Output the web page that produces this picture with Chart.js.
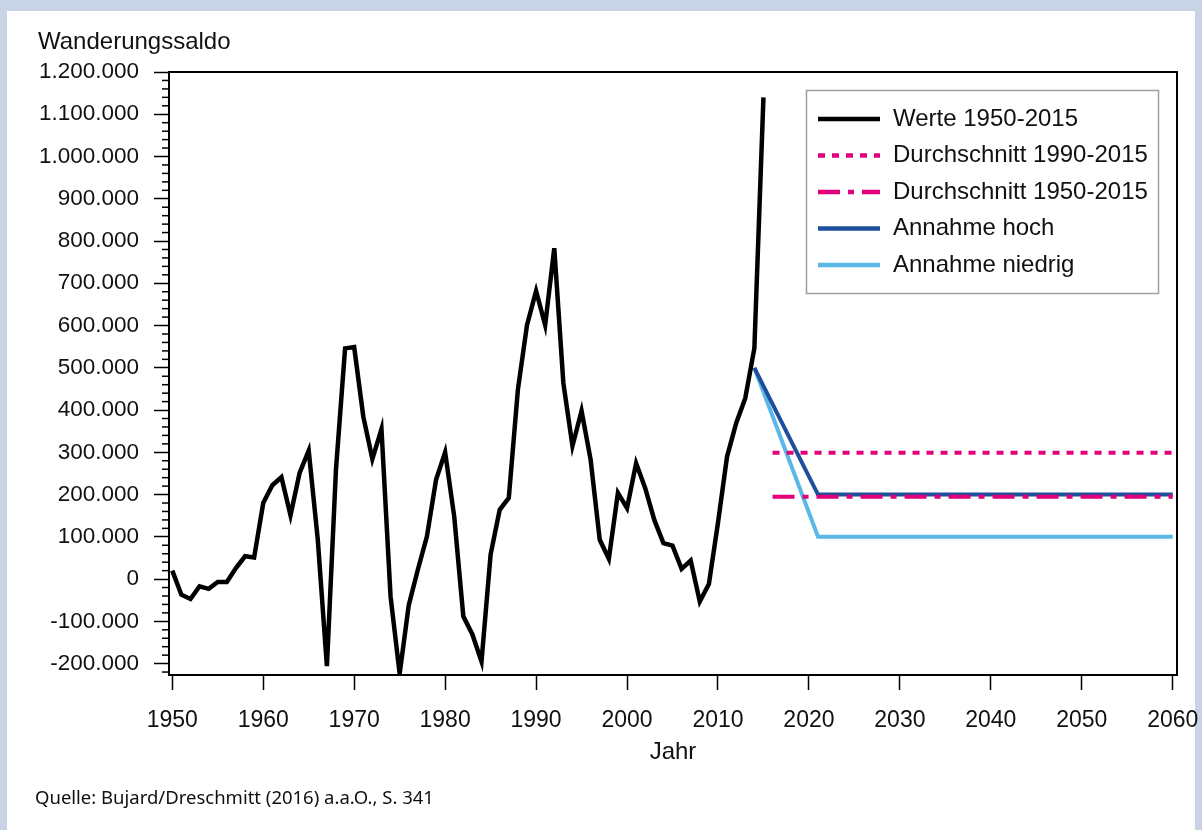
<!DOCTYPE html>
<html>
<head>
<meta charset="utf-8">
<script src="https://cdn.jsdelivr.net/npm/chart.js@4.4.1/dist/chart.umd.min.js"></script>
<style>
  body { margin: 0; background: #c9d3e6; }
  #panel { position: absolute; left: 7px; top: 11px; width: 1188px; height: 819px; background: #fff; }
  #wrap { position: absolute; left: 0; top: 0; width: 1202px; height: 830px; }
  #ytitle { position: absolute; left: 38px; top: 27px; font: 24px "Liberation Sans", Arial, sans-serif; color: #111; }
  #source { position: absolute; left: 35px; top: 784px; font: 18.5px "Noto Sans", sans-serif; color: #111; }
</style>
</head>
<body>
<div id="panel"></div>
<div id="wrap"><canvas id="myChart" width="1202" height="830"></canvas></div>
<div id="ytitle">Wanderungssaldo</div>
<div id="source">Quelle: Bujard/Dreschmitt (2016) a.a.O., S. 341</div>
<script>
// Jahre 1950-2015 und Wanderungssaldo
const years = [];
for (let y = 1950; y <= 2015; y++) years.push(y);
const werte = [
    20000, -37000, -47000, -17000, -23000, -7000, -7000, 26000, 54000, 51000,
    180000, 222000, 241000, 151000, 251000, 304000, 93000, -206000, 260000, 546000,
    549000, 385000, 284000, 355000, -41000, -224000, -62000, 22000, 101000, 235000,
    300000, 148000, -88000, -131000, -195000, 58000, 164000, 192000, 448000, 601000,
    682000, 601000, 783000, 464000, 315000, 398000, 282000, 93000, 48000, 204000,
    168000, 274000, 215000, 140000, 85000, 79000, 24000, 44000, -53000, -12000,
    133000, 290000, 369000, 428000, 546000, 1140000
];

// Durchschnitte und Annahmen
const avgYears = [2016, 2060];
const avg1990 = [299000, 299000];
const avg1950 = [195000, 195000];
const projYears = [2014, 2021, 2060];
const hoch = [500000, 200000, 200000];
const niedrig = [500000, 100000, 100000];

// Achsen
const yMin = -227000, yMax = 1200000;
const yMajor = 100000, yMinor = 20000;
const xMin = 1949.64, xMax = 2060.47, xStep = 10;

const fontFamily = '"Liberation Sans", Arial, sans-serif';
const magenta = '#e2007a';

function pts(xs, ys) {
    return xs.map((x, i) => ({ x: x, y: ys[i] }));
}

function fmt(v) {
    const s = String(Math.abs(v)).replace(/\B(?=(\d{3})+(?!\d))/g, '.');
    return (v < 0 ? '-' : '') + s;
}

function isMajor(v) {
    return Math.round(v) % yMajor === 0;
}

// Kleine Striche an der y-Achse, Rahmen und Legende
const extras = {
    id: 'extras',
    afterDraw(chart) {
        const ctx = chart.ctx;
        const a = chart.chartArea;
        const ys = chart.scales.y;
        ctx.save();
        ctx.strokeStyle = '#000';
        ctx.lineWidth = 1.5;
        ys.ticks.forEach(t => {
            if (!isMajor(t.value)) {
                const py = ys.getPixelForValue(t.value);
                ctx.beginPath();
                ctx.moveTo(a.left - 7, py);
                ctx.lineTo(a.left, py);
                ctx.stroke();
            }
        });
        ctx.lineWidth = 2;
        ctx.strokeRect(a.left, a.top, a.right - a.left, a.bottom - a.top);

        // Legende
        const lx = 806, ly = 90, lw = 352, lh = 203;
        ctx.fillStyle = '#fff';
        ctx.fillRect(lx, ly, lw, lh);
        ctx.strokeStyle = '#a0a0a0';
        ctx.lineWidth = 1.5;
        ctx.strokeRect(lx + 0.5, ly + 0.5, lw, lh);
        ctx.font = '24px ' + fontFamily;
        ctx.textBaseline = 'middle';
        chart.data.datasets.forEach((ds, i) => {
            const ry = 119 + i * 36.5;
            ctx.strokeStyle = ds.borderColor;
            ctx.lineWidth = 4.5;
            ctx.setLineDash(ds.borderDash || []);
            ctx.beginPath();
            ctx.moveTo(818, ry);
            ctx.lineTo(880, ry);
            ctx.stroke();
            ctx.setLineDash([]);
            ctx.fillStyle = '#111';
            ctx.fillText(ds.label, 893, ry);
        });
        ctx.restore();
    }
};

const config = {
    type: 'line',
    data: {
        datasets: [
            { label: 'Werte 1950-2015', data: pts(years, werte), borderColor: '#000', borderWidth: 4.5 },
            { label: 'Durchschnitt 1990-2015', data: pts(avgYears, avg1990), borderColor: magenta, borderWidth: 4, borderDash: [7, 7] },
            { label: 'Durchschnitt 1950-2015', data: pts(avgYears, avg1950), borderColor: magenta, borderWidth: 4, borderDash: [22, 8, 6, 8] },
            { label: 'Annahme hoch', data: pts(projYears, hoch), borderColor: '#1d4f9c', borderWidth: 4 },
            { label: 'Annahme niedrig', data: pts(projYears, niedrig), borderColor: '#5ab8e6', borderWidth: 4 }
        ]
    },
    options: {
        responsive: false,
        animation: false,
        events: [],
        layout: { padding: { top: 72, right: 25, bottom: 55, left: 0 } },
        elements: {
            point: { radius: 0 },
            line: { tension: 0, borderJoinStyle: 'miter', borderCapStyle: 'butt' }
        },
        plugins: { legend: { display: false }, tooltip: { enabled: false } },
        scales: {
            x: {
                type: 'linear',
                min: xMin,
                max: xMax,
                afterFit: s => { s.height = 100; s.paddingLeft = 0; s.paddingRight = 0; },
                border: { display: true, color: '#000', width: 2 },
                grid: { drawOnChartArea: false, tickLength: 15, tickColor: '#000', tickWidth: 1.5 },
                ticks: {
                    stepSize: xStep, autoSkip: false, includeBounds: false, padding: 17, maxRotation: 0,
                    color: '#111', font: { size: 23, family: fontFamily },
                    callback: v => String(v)
                },
                title: {
                    display: true, text: 'Jahr', color: '#111',
                    font: { size: 24, family: fontFamily }, padding: { top: 4, bottom: 8 }
                }
            },
            y: {
                min: yMin,
                max: yMax,
                afterFit: s => { s.width = 169; s.paddingTop = 0; s.paddingBottom = 0; },
                afterBuildTicks: s => {
                    const t = [];
                    for (let v = Math.ceil(yMin / yMinor) * yMinor; v <= yMax; v += yMinor) t.push({ value: v });
                    s.ticks = t;
                },
                border: { display: true, color: '#000', width: 2 },
                grid: {
                    drawOnChartArea: false, tickLength: 15, tickWidth: 1.5,
                    tickColor: c => (c.tick && isMajor(c.tick.value)) ? '#000' : 'transparent'
                },
                ticks: {
                    autoSkip: false, padding: 15,
                    color: '#111', font: { size: 22.5, family: fontFamily },
                    callback: v => (isMajor(v) ? fmt(v) : '')
                }
            }
        }
    },
    plugins: [extras]
};

let chart = new Chart(document.getElementById('myChart'), config);
</script>
</body>
</html>
